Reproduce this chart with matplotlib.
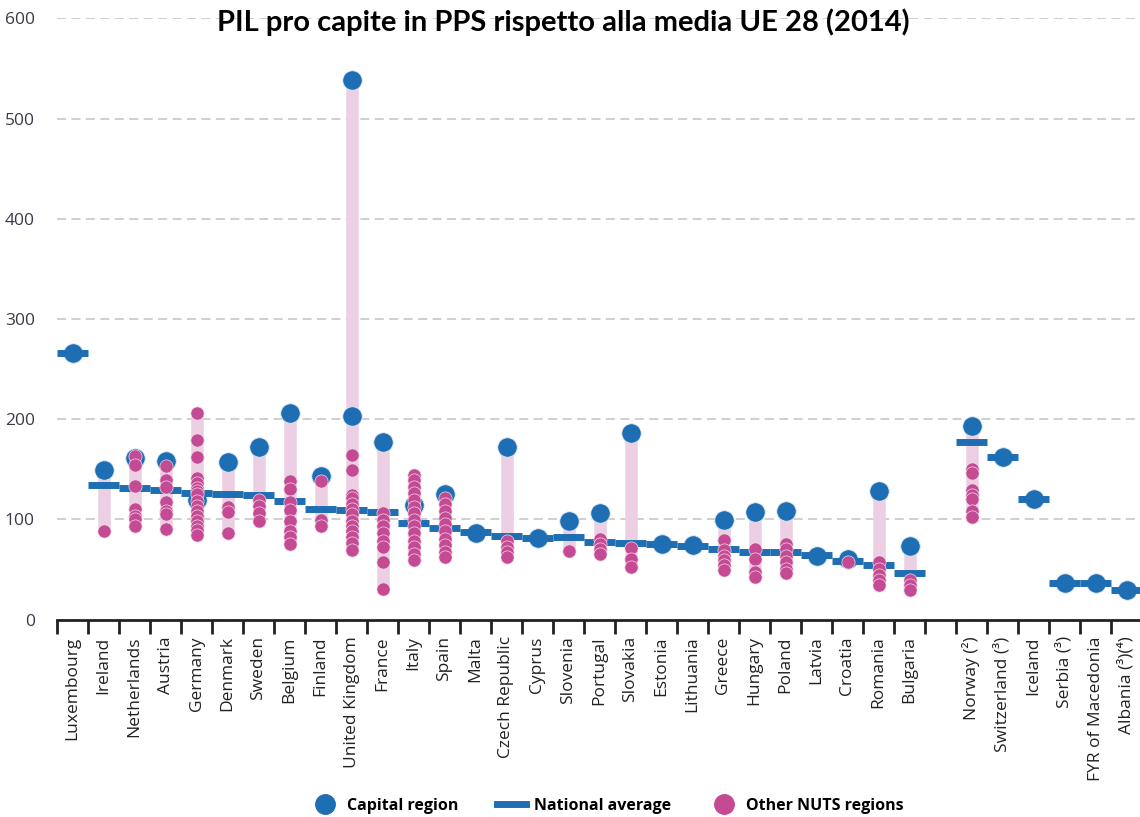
import numpy as np
import matplotlib
matplotlib.use("Agg")
import matplotlib.pyplot as plt
from matplotlib.lines import Line2D

# GDP per capita in PPS, EU-28 = 100 (2014)
countries = ['Luxembourg', 'Ireland', 'Netherlands', 'Austria', 'Germany', 'Denmark',
             'Sweden', 'Belgium', 'Finland', 'United Kingdom', 'France', 'Italy', 'Spain',
             'Malta', 'Czech Republic', 'Cyprus', 'Slovenia', 'Portugal', 'Slovakia',
             'Estonia', 'Lithuania', 'Greece', 'Hungary', 'Poland', 'Latvia', 'Croatia',
             'Romania', 'Bulgaria',
             'Norway (²)', 'Switzerland (³)', 'Iceland', 'Serbia (³)', 'FYR of Macedonia',
             'Albania (³)(⁴)']

capital = [[266], [149], [161], [158], [119], [157], [172], [206], [143], [538, 203],
           [177], [114], [125], [86], [172], [82], [98], [106], [186], [76], [75], [99],
           [107], [108], [64], [61], [128], [74],
           [193], [162], [120], [37], [37], [30]]

national = [266, 134, 131, 129, 126, 125, 124, 118, 110, 109, 107, 96, 91, 87, 84, 82,
            83, 78, 77, 76, 74, 71, 68, 68, 65, 59, 55, 47,
            177, 162, 120, 37, 37, 30]

others = [[],
          [88],
          [163, 154, 133, 110, 103, 100, 93],
          [153, 139, 132, 117, 108, 105, 90],
          [206, 179, 162, 141, 136, 131, 128, 125, 118, 113, 108, 103, 98, 93, 89, 85],
          [112, 107, 86],
          [119, 113, 106, 98],
          [138, 130, 117, 109, 98, 88, 83, 76],
          [138, 99, 93],
          [164, 149, 124, 121, 115, 110, 105, 98, 93, 88, 83, 77, 70],
          [106, 99, 93, 86, 79, 73, 58, 31],
          [144, 139, 132, 126, 119, 112, 106, 99, 93, 86, 79, 73, 66, 60],
          [121, 115, 108, 101, 95, 88, 81, 75, 68, 63],
          [],
          [79, 73, 68, 63],
          [],
          [69],
          [81, 76, 71, 66],
          [72, 61, 53],
          [],
          [],
          [80, 70, 64, 60, 55, 50],
          [71, 61, 48, 43],
          [76, 71, 64, 58, 51, 47],
          [],
          [58],
          [58, 51, 45, 40, 35],
          [40, 35, 30],
          [150, 146, 129, 124, 120, 108, 102],
          [], [], [], [], []]

BLUE = '#1e6eb4'
MAGENTA = '#c54a94'
PINK = '#eccfe2'

plt.rcParams['font.family'] = ['Open Sans', 'DejaVu Sans']

fig = plt.figure(figsize=(11.4, 8.17), dpi=100)
W, H = 1140, 817
ax = fig.add_axes([57 / W, 1 - 619.7 / H, (1142 - 57) / W, (619.7 - 18.3) / H])

# one empty slot between the EU-28 and the other countries
pos = [i if i < 28 else i + 1 for i in range(len(countries))]

for x, cap, nat, oth in zip(pos, capital, national, others):
    vals = cap + oth
    if len(vals) > 1:
        ax.vlines(x, min(vals), max(vals), color=PINK, lw=9, zorder=2)
    ax.plot([x] * len(cap), cap, 'o', ms=14, color=BLUE, mec='#dfe8f3', mew=0.6,
            zorder=3, ls='none')
    ax.hlines(nat, x - 0.5, x + 0.5, color=BLUE, lw=5, zorder=4)
    if oth:
        ax.plot([x] * len(oth), oth, 'o', ms=9.5, color=MAGENTA, mec='#f0d8e6', mew=0.5,
                zorder=5, ls='none')

ax.set_xlim(-0.5, 34.5)
ax.set_ylim(0, 600)

ax.set_xticks(np.arange(-0.5, 35, 1))
ax.set_xticklabels([])
ax.set_xticks(pos, minor=True)
ax.set_xticklabels(countries, minor=True, rotation=90, fontsize=12.5, color='#222222',
                   va='top', ha='center')
ax.tick_params(axis='x', which='major', length=10, width=2, color='#222222')
ax.tick_params(axis='x', which='minor', length=0, pad=12)

ax.set_yticks(np.arange(0, 601, 100))
ax.tick_params(axis='y', length=0, pad=16, labelsize=12.5, labelcolor='#3a3a4a')

for s in ['left', 'right', 'top']:
    ax.spines[s].set_visible(False)
ax.spines['bottom'].set_linewidth(2)
ax.spines['bottom'].set_color('#222222')

ax.set_axisbelow(True)
ax.yaxis.grid(True, color='#cccccc', lw=1.3, linestyle=(0, (5, 3)))

fig.text(563 / W, 1 - 22 / H, 'PIL pro capite in PPS rispetto alla media UE 28 (2014)',
         ha='center', va='center', fontsize=21, fontweight='bold', family='Lato')

handles = [Line2D([], [], marker='o', ls='none', ms=14, color=BLUE),
           Line2D([], [], lw=5, color=BLUE),
           Line2D([], [], marker='o', ls='none', ms=14, color=MAGENTA)]
fig.legend(handles, ['Capital region', 'National average', 'Other NUTS regions'],
           loc='center', bbox_to_anchor=(607 / W, 1 - 806 / H), ncol=3, frameon=False,
           prop={'weight': 'bold', 'size': 11.5}, handlelength=1.8, handletextpad=0.5,
           columnspacing=2.4)

fig.savefig('out.png', dpi=100)
